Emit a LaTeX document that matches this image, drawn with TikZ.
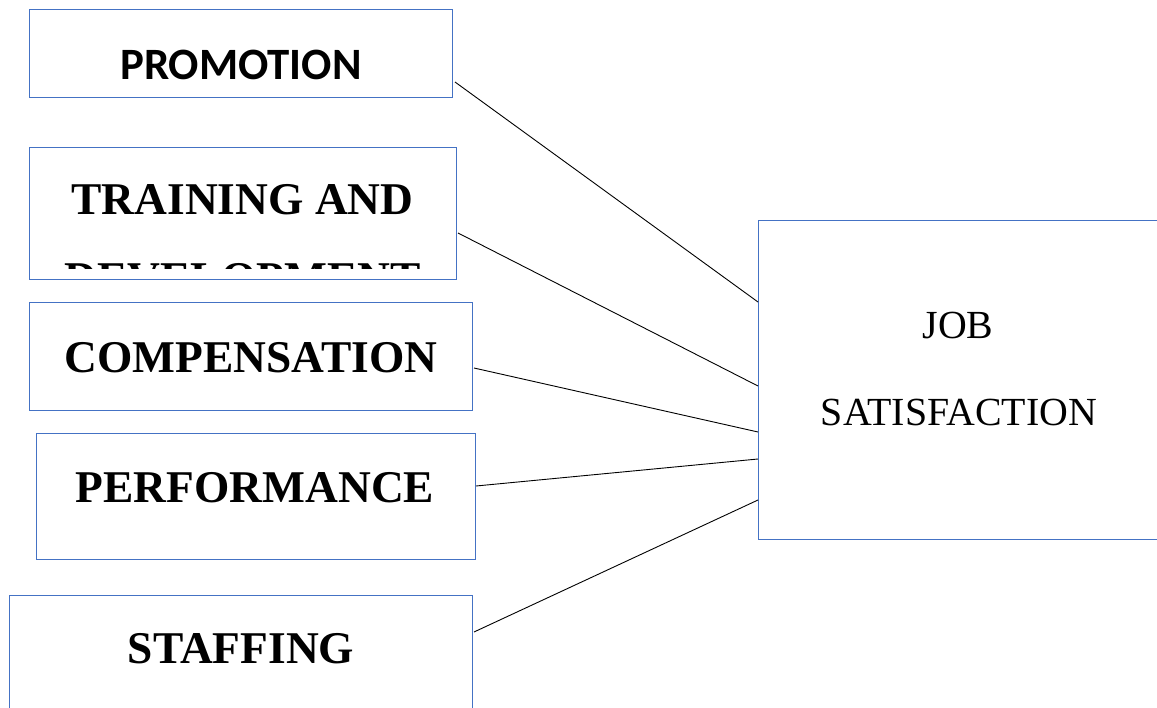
\documentclass[tikz,border=0pt]{standalone}
\usepackage{fontspec}
\setmainfont{Liberation Serif}
\newfontfamily\calibrifont{Carlito}
\usepackage{tikz}
\usetikzlibrary{positioning,calc}
\definecolor{boxcol}{HTML}{4472C4}

\begin{document}
\begin{tikzpicture}[x=1bp,y=-1bp,
  box/.style={draw=boxcol,line width=1bp,inner sep=0pt,outer sep=0pt},
  lbl/.style={anchor=base,inner sep=0pt,font=\fontsize{45.6}{54}\selectfont\bfseries},
  link/.style={draw=black,line width=0.9bp}]
  \clip (0,0) rectangle (1157,708);
  % factor boxes on the left
  \node[box,minimum width=422bp,minimum height=88bp] (promo) at (241,54) {};
  \node[box,minimum width=426bp,minimum height=131bp] (train) at (243,213.5) {};
  \node[box,minimum width=442bp,minimum height=108bp] (comp) at (251,356) {};
  \node[box,minimum width=438bp,minimum height=126bp] (perf) at (256,496) {};
  \node[box,minimum width=462bp,minimum height=130bp] (staff) at (241,660) {};
  % outcome box on the right
  \node[box,minimum width=410bp,minimum height=318bp] (job) at (963,380) {};
  % labels
  \node[lbl,font=\fontsize{45}{52}\selectfont\calibrifont\bfseries] (promolbl) at (241,80) {PROMOTION};
  \node[lbl] (trainlbl) at (242.5,215) {TRAINING AND};
  \begin{scope}
    \clip (30,148) rectangle (456,268);
    \node[lbl] (devlbl) at (242.5,293) {DEVELOPMENT};
  \end{scope}
  \node[lbl] (complbl) at (251,372) {COMPENSATION};
  \node[lbl] (perflbl) at (255,502) {PERFORMANCE};
  \node[lbl] (stafflbl) at (241,663) {STAFFING};
  \node[lbl,font=\fontsize{40}{48}\selectfont] (joblbl) at (958,338) {JOB};
  \node[lbl,font=\fontsize{40}{48}\selectfont] (satlbl) at (959,425) {SATISFACTION};
  % connectors
  \draw[link] ([shift={(3,28)}]promo.east) -- ([yshift=78bp]job.west);
  \draw[link] ([shift={(2,19.5)}]train.east) -- ([yshift=-6bp]job.west);
  \draw[link] ([shift={(2,12)}]comp.east) -- ([yshift=-52bp]job.west);
  \draw[link] ([shift={(1,-10)}]perf.east) -- ([yshift=-79bp]job.west);
  \draw[link] ([shift={(2,-28)}]staff.east) -- ([yshift=-120bp]job.west);
\end{tikzpicture}
\end{document}
